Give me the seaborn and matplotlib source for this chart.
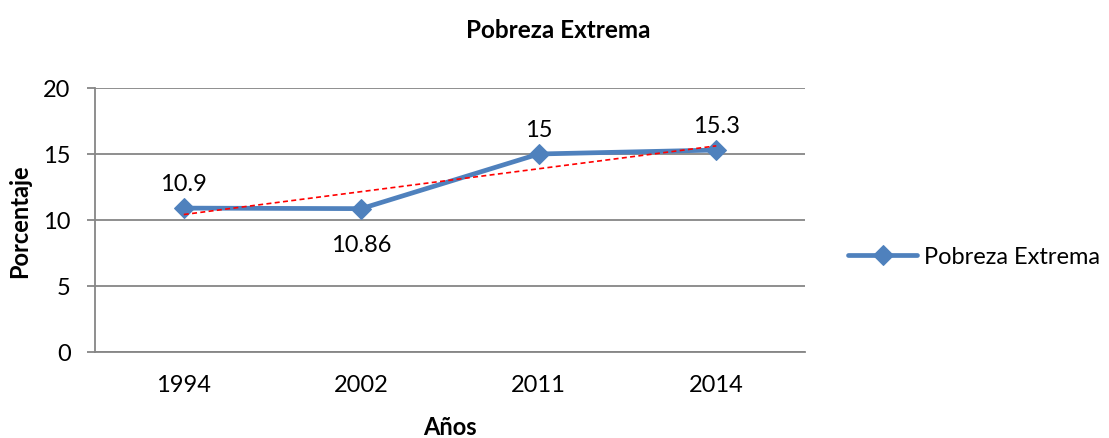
import numpy as np
import pandas as pd
import matplotlib
matplotlib.use("Agg")
import matplotlib.pyplot as plt
import seaborn as sns

years = ["1994", "2002", "2011", "2014"]
values = [10.9, 10.86, 15, 15.3]
value_labels = ["10.9", "10.86", "15", "15.3"]
label_above = [True, False, True, True]
series_name = "Pobreza Extrema"

sns.set_style("white")
plt.rcParams["font.family"] = ["Lato", "DejaVu Sans"]
plt.rcParams["text.color"] = "black"
plt.rcParams["axes.labelcolor"] = "black"
plt.rcParams["xtick.labelcolor"] = "black"
plt.rcParams["ytick.labelcolor"] = "black"

df = pd.DataFrame({"pos": np.arange(len(years)), "Año": years, "valor": values})

fig = plt.figure(figsize=(11.09, 4.39), dpi=100)
ax = fig.add_axes([0.0857, 0.1959, 0.6402, 0.6014])

blue = "#4F81BD"
grid_c = "#868686"
fs = 17

sns.lineplot(data=df, x="pos", y="valor", ax=ax, color=blue, linewidth=3.4,
             marker="D", markersize=10, markeredgecolor=blue,
             label=series_name, zorder=3)

# linear trend line through the series
coef = np.polyfit(df["pos"], df["valor"], 1)
trend = pd.DataFrame({"pos": df["pos"], "t": np.polyval(coef, df["pos"])})
sns.lineplot(data=trend, x="pos", y="t", ax=ax, color="#FF0000", linewidth=1.2,
             linestyle=(0, (3, 2)), zorder=4, legend=False)

for i, (v, lab, up) in enumerate(zip(values, value_labels, label_above)):
    off = 17.5 if up else -25.5
    ax.annotate(lab, (i, v), xytext=(0, off), textcoords="offset points",
                ha="center", va="center", fontsize=fs, color="black")

ax.set_xlim(-0.5, len(years) - 0.5)
ax.set_ylim(0, 20)
ax.set_yticks([0, 5, 10, 15, 20])
ax.set_xticks(df["pos"])
ax.set_xticklabels(years)
ax.yaxis.grid(True, color=grid_c, linewidth=1.3)
ax.xaxis.grid(False)
for s in ["top", "right"]:
    ax.spines[s].set_visible(False)
for s in ["left", "bottom"]:
    ax.spines[s].set_color(grid_c)
    ax.spines[s].set_linewidth(1.3)
ax.tick_params(axis="y", which="major", left=True, length=5.5, width=1.3,
               color=grid_c, labelcolor="black", labelsize=fs, pad=12)
ax.tick_params(axis="x", bottom=False, length=0, labelcolor="black",
               labelsize=fs, pad=16)

ax.set_xlabel("Años", fontsize=fs, fontweight="bold", labelpad=14)
ax.set_ylabel("Porcentaje", fontsize=fs, fontweight="bold", labelpad=9)
fig.text(0.503, 0.93, series_name, fontsize=17.5, fontweight="bold",
         ha="center", va="center")

leg = ax.legend(loc="center left", bbox_to_anchor=(1.041, 0.36), frameon=False,
                fontsize=fs, handlelength=2.9, handletextpad=0.3,
                borderaxespad=0.2)

fig.savefig("out.png", dpi=100)
